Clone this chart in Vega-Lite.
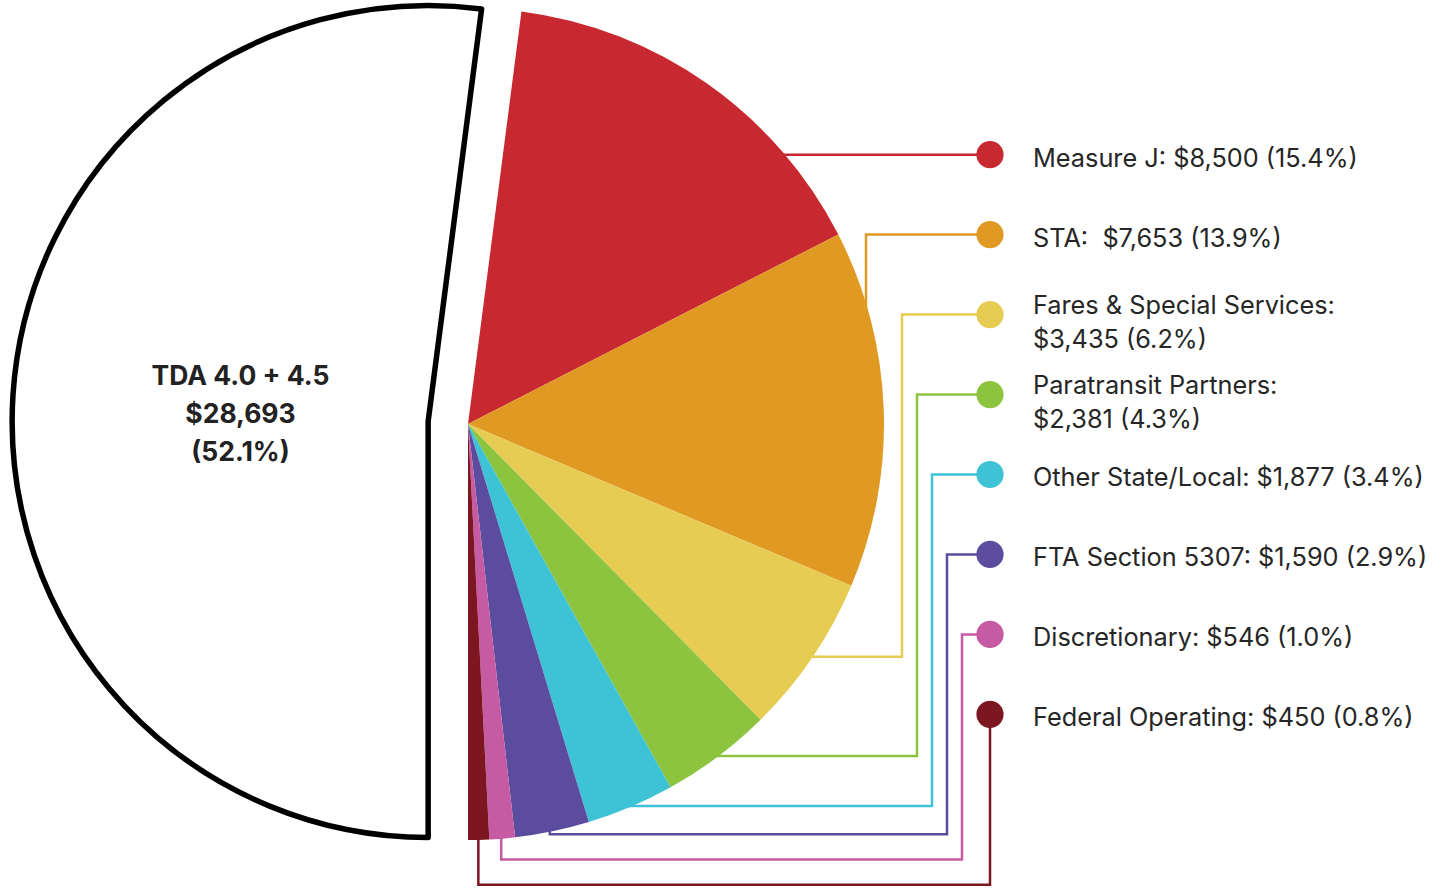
{
  "$schema": "https://vega.github.io/schema/vega-lite/v6.json",
  "width": 1450,
  "height": 890,
  "autosize": {"type": "fit", "contains": "padding"},
  "padding": 0,
  "background": "white",
  "config": {"view": {"stroke": null}},
  "data": {
    "values": [
      {"rank": 0, "source": "TDA 4.0 + 4.5", "amount": 28693, "label": "TDA 4.0 + 4.5\n$28,693\n(52.1%)"},
      {"rank": 1, "source": "Measure J", "amount": 8500, "label": "Measure J: $8,500 (15.4%)"},
      {"rank": 2, "source": "STA", "amount": 7653, "label": "STA:\u00a0 $7,653 (13.9%)"},
      {"rank": 3, "source": "Fares & Special Services", "amount": 3435, "label": "Fares & Special Services:\n$3,435 (6.2%)"},
      {"rank": 4, "source": "Paratransit Partners", "amount": 2381, "label": "Paratransit Partners:\n$2,381 (4.3%)"},
      {"rank": 5, "source": "Other State/Local", "amount": 1877, "label": "Other State/Local: $1,877 (3.4%)"},
      {"rank": 6, "source": "FTA Section 5307", "amount": 1590, "label": "FTA Section 5307: $1,590 (2.9%)"},
      {"rank": 7, "source": "Discretionary", "amount": 546, "label": "Discretionary: $546 (1.0%)"},
      {"rank": 8, "source": "Federal Operating", "amount": 450, "label": "Federal Operating: $450 (0.8%)"}
    ]
  },
  "transform": [
    {"joinaggregate": [{"op": "sum", "field": "amount", "as": "total"}]},
    {"window": [{"op": "sum", "field": "amount", "as": "cum"}], "sort": [{"field": "rank", "order": "ascending"}], "frame": [null, 0]},
    {"calculate": "PI + 2 * PI * (datum.cum - datum.amount) / datum.total", "as": "a0"},
    {"calculate": "PI + 2 * PI * datum.cum / datum.total", "as": "a1"},
    {"calculate": "(datum.a0 + datum.a1) / 2", "as": "mid"},
    {"calculate": "datum.rank == 0 ? 0.096 * sin(datum.mid) : 0", "as": "cx"},
    {"calculate": "datum.rank == 0 ? 0.096 * cos(datum.mid) : 0", "as": "cy"},
    {"calculate": "0.548 * sin(datum.mid)", "as": "lx"},
    {"calculate": "0.548 * cos(datum.mid)", "as": "ly"},
    {"calculate": "0.64904 - 0.19264 * (datum.rank - 1)", "as": "dotY"},
    {"calculate": "indexof(datum.label, '\\n') >= 0", "as": "twoLine"}
  ],
  "layer": [
    {
      "transform": [
        {"filter": "datum.rank > 0"},
        {"calculate": "0.97 * sin(datum.mid)", "as": "ax"},
        {"calculate": "cos(datum.mid)", "as": "ay"},
        {"calculate": "datum.rank == 1 ? datum.dotY : (datum.rank >= 6 ? min(cos(datum.mid), -0.988 - 0.061 * (datum.rank - 6)) : cos(datum.mid))", "as": "hy"},
        {"calculate": "(datum.rank == 1 || datum.rank == 8) ? 1.25481 : (datum.rank == 2 ? 0.95673 : 1.04327 + 0.03606 * (datum.rank - 3))", "as": "ex"},
        {"calculate": "[{x: datum.ax, y: datum.ay, k: 0}, {x: datum.ax, y: datum.hy, k: 1}, {x: datum.ex, y: datum.hy, k: 2}, {x: datum.ex, y: datum.dotY, k: 3}, {x: 1.25481, y: datum.dotY, k: 4}]", "as": "pts"},
        {"flatten": ["pts"]}
      ],
      "mark": {"type": "line", "strokeWidth": 2.5, "strokeCap": "square", "strokeJoin": "miter"},
      "encoding": {
        "x": {"field": "pts.x", "type": "quantitative", "scale": {"domain": [-1.125, 2.36058], "nice": false, "zero": false}, "axis": null},
        "y": {"field": "pts.y", "type": "quantitative", "scale": {"domain": [-1.11779, 1.02163], "nice": false, "zero": false}, "axis": null},
        "order": {"field": "pts.k", "type": "quantitative"},
        "color": {
          "field": "source", "type": "nominal", "legend": null,
          "scale": {
            "domain": ["Measure J", "STA", "Fares & Special Services", "Paratransit Partners", "Other State/Local", "FTA Section 5307", "Discretionary", "Federal Operating"],
            "range": ["#C8282F", "#E09A24", "#E6CC52", "#8CC43F", "#3EC2D6", "#5C4C9E", "#C65BA3", "#7C1620"]
          }
        }
      }
    },
    {
      "transform": [{"filter": "datum.rank > 0"}],
      "mark": {"type": "arc", "radius": 416},
      "encoding": {
        "theta": {"field": "a0", "type": "quantitative", "scale": null, "stack": null},
        "theta2": {"field": "a1"},
        "x": {"field": "cx", "type": "quantitative", "scale": {"domain": [-1.125, 2.36058], "nice": false, "zero": false}, "axis": null},
        "y": {"field": "cy", "type": "quantitative", "scale": {"domain": [-1.11779, 1.02163], "nice": false, "zero": false}, "axis": null},
        "color": {"field": "source", "type": "nominal", "legend": null}
      }
    },
    {
      "transform": [{"filter": "datum.rank == 0"}],
      "mark": {"type": "arc", "radius": 416, "fill": "white", "stroke": "black", "strokeWidth": 5.5, "strokeJoin": "round"},
      "encoding": {
        "theta": {"field": "a0", "type": "quantitative", "scale": null, "stack": null},
        "theta2": {"field": "a1"},
        "x": {"field": "cx", "type": "quantitative", "axis": null},
        "y": {"field": "cy", "type": "quantitative", "axis": null}
      }
    },
    {
      "transform": [{"filter": "datum.rank > 0"}],
      "mark": {"type": "point", "shape": "circle", "filled": true, "size": 740, "opacity": 1},
      "encoding": {
        "x": {"datum": 1.25481, "type": "quantitative", "axis": null},
        "y": {"field": "dotY", "type": "quantitative", "axis": null},
        "color": {"field": "source", "type": "nominal", "legend": null}
      }
    },
    {
      "transform": [{"filter": "datum.rank > 0 && !datum.twoLine"}],
      "mark": {"type": "text", "align": "left", "baseline": "middle", "font": "Inter", "fontSize": 25.3, "color": "#262626", "dy": 4},
      "encoding": {
        "x": {"datum": 1.35817, "type": "quantitative", "axis": null},
        "y": {"field": "dotY", "type": "quantitative", "axis": null},
        "text": {"field": "label"}
      }
    },
    {
      "transform": [{"filter": "datum.rank > 0 && datum.twoLine"}],
      "mark": {"type": "text", "align": "left", "baseline": "middle", "font": "Inter", "fontSize": 25.3, "color": "#262626", "lineBreak": "\n", "lineHeight": 34, "dy": -9},
      "encoding": {
        "x": {"datum": 1.35817, "type": "quantitative", "axis": null},
        "y": {"field": "dotY", "type": "quantitative", "axis": null},
        "text": {"field": "label"}
      }
    },
    {
      "transform": [{"filter": "datum.rank == 0"}],
      "mark": {"type": "text", "align": "center", "baseline": "middle", "font": "Inter", "fontSize": 26.5, "fontWeight": "bold", "color": "#222222", "lineBreak": "\n", "lineHeight": 38, "dy": -32},
      "encoding": {
        "x": {"field": "lx", "type": "quantitative", "axis": null},
        "y": {"field": "ly", "type": "quantitative", "axis": null},
        "text": {"field": "label"}
      }
    }
  ]
}
